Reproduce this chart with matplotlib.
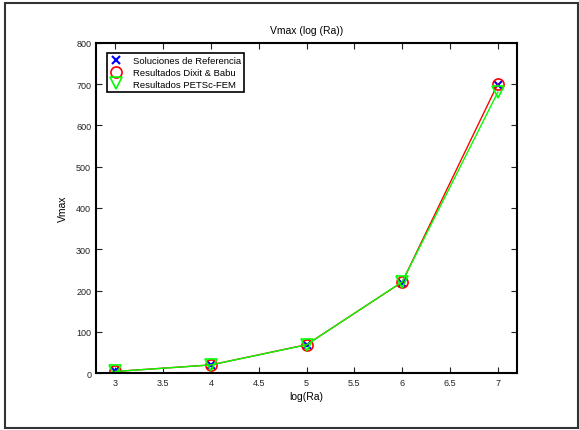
import matplotlib
matplotlib.use('Agg')
import matplotlib.pyplot as plt
from matplotlib.patches import Rectangle
from matplotlib.lines import Line2D

plt.rcParams['font.family'] = ['Liberation Sans', 'DejaVu Sans']

# Vmax vs log(Ra)
log_ra = [3, 4, 5, 6, 7]
vmax_ref = [3.697, 19.617, 68.59, 219.36, 699.2]
vmax_dixit = [3.69, 19.63, 68.63, 220.46, 701.3]
vmax_petsc = [3.65, 19.5, 68.2, 221.0, 681.0]

xticks = [3, 3.5, 4, 4.5, 5, 5.5, 6, 6.5, 7]
yticks = [0, 100, 200, 300, 400, 500, 600, 700, 800]

fig = plt.figure(figsize=(5.79, 4.31), dpi=100)
ax = fig.add_axes([96/579, 1 - 374/431, (517-96)/579, (374-44)/431])

ax.plot(log_ra, vmax_ref, 'x', color='#0000ff', ms=6, mew=1.5)
ax.plot(log_ra, vmax_dixit, '-o', color='#ff0000', ms=8, mfc='none', mew=1.2, lw=1)
ax.plot(log_ra, vmax_petsc, '-v', color='#00ff00', ms=8, mfc='none', mew=1.2, lw=1)

ax.set_xlim(2.8, 7.2)
ax.set_ylim(0, 800)
ax.set_xticks(xticks)
ax.set_xticklabels(['3', '3.5', '4', '4.5', '5', '5.5', '6', '6.5', '7'])
ax.set_yticks(yticks)
ax.tick_params(direction='in', top=True, right=True, labelsize=6.5,
               length=4, width=0.8, colors='#222222')
for s in ax.spines.values():
    s.set_linewidth(1.5)
    s.set_color('black')

ax.set_title('Vmax (log (Ra))', fontsize=7.5, pad=7)
ax.set_xlabel('log(Ra)', fontsize=7.5, labelpad=3)
ax.set_ylabel('Vmax', fontsize=7.5, labelpad=6)

# legend shows markers only
handles = [
    Line2D([], [], ls='none', marker='x', color='#0000ff', ms=6, mew=1.5),
    Line2D([], [], ls='none', marker='o', color='#ff0000', ms=8, mfc='none', mew=1.2),
    Line2D([], [], ls='none', marker='v', color='#00ff00', ms=8, mfc='none', mew=1.2),
]
labels = ['Soluciones de Referencia', 'Resultados Dixit & Babu', 'Resultados PETSc-FEM']
leg = ax.legend(handles, labels, loc='upper left', bbox_to_anchor=(0.015, 0.985),
                fontsize=6.8, fancybox=False, framealpha=1, edgecolor='black',
                handlelength=1.2, handletextpad=1.2, borderpad=0.35,
                labelspacing=0.3)
leg.get_frame().set_linewidth(1.2)

# outer frame around the whole figure
fig.patches.append(Rectangle((5/579, 1 - 429/431), 573/579, 425/431,
                             transform=fig.transFigure, fill=False,
                             edgecolor='#333333', lw=1.5))

fig.savefig('out.png', dpi=100)
